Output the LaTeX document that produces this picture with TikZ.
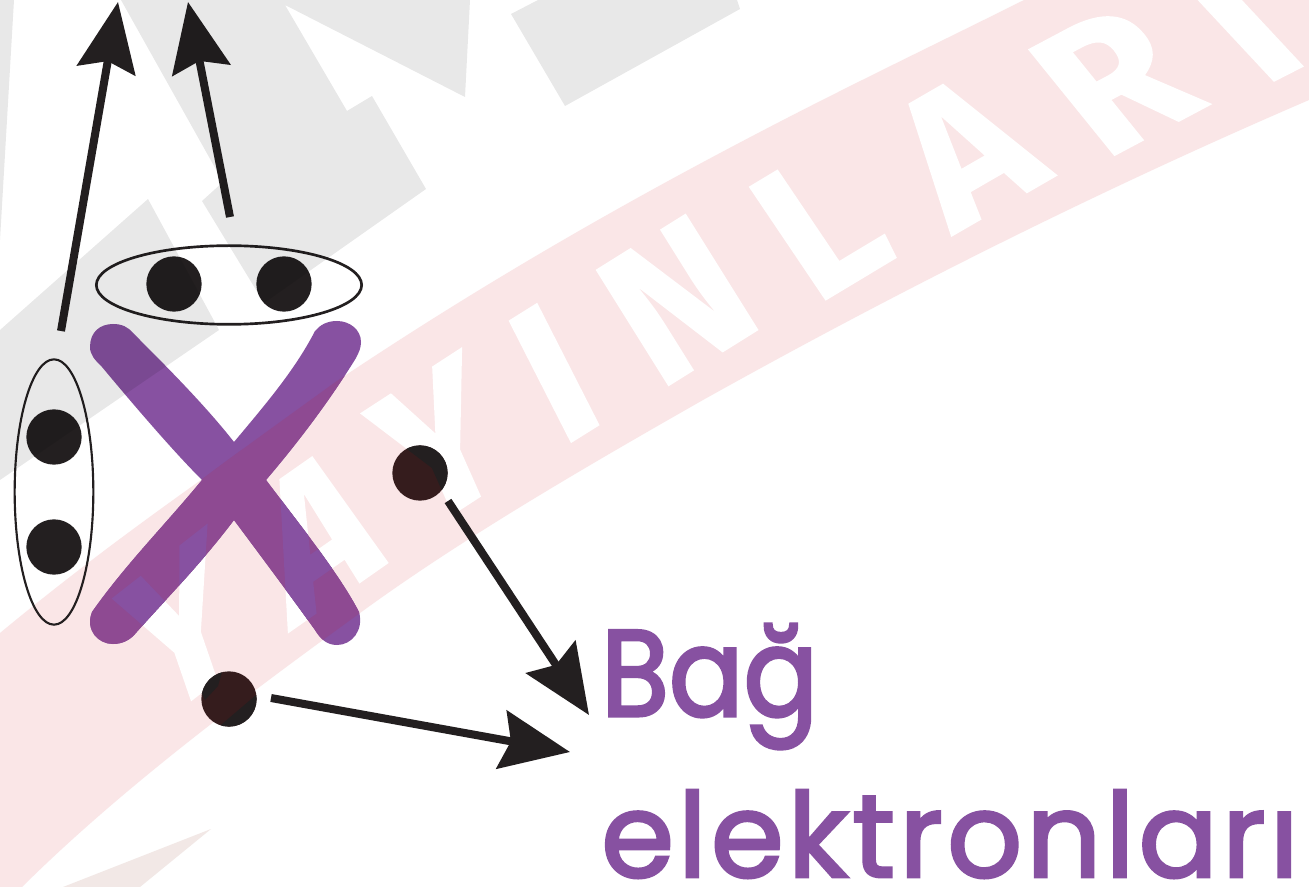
\documentclass[tikz,border=0pt]{standalone}
\usepackage{fontspec}
\usetikzlibrary{arrows.meta,shapes.geometric}
\setmainfont{Poppins}
\newfontfamily\wmfont{Fira Sans Bold}[FakeBold=0.8]
\newfontfamily\labfont{Poppins}[FakeBold=2.5,LetterSpace=3.5]
\newfontfamily\labbfont{Poppins}[FakeBold=2.5,FakeStretch=0.9]
\definecolor{inkblack}{RGB}{35,31,32}
\definecolor{inktint}{RGB}{53,28,29}
\definecolor{xpurple}{RGB}{135,81,161}
\definecolor{xtint}{RGB}{142,74,146}
\definecolor{wmpink}{RGB}{250,230,231}
\definecolor{wmsmall}{RGB}{242,232,230}
% one slanted watermark letter: x, y (px from top-left), baseline dir, stem dir, letter, colour
\newcommand{\wmletter}[6]{%
  \begin{scope}[shift={(#1,#2)}]
    \pgfmathsetmacro{\wma}{cos(#3)}\pgfmathsetmacro{\wmb}{sin(#3)}
    \pgfmathsetmacro{\wmc}{cos(#4)}\pgfmathsetmacro{\wmd}{sin(#4)}
    \pgftransformcm{\wma}{\wmb}{\wmc}{\wmd}{\pgfpointorigin}
    \node[transform shape,inner sep=0pt,outer sep=0pt,text=#6,anchor=center] {\fontsize{147pt}{147pt}\wmfont #5};
  \end{scope}}
\newcommand{\wmYa}[1]{\wmletter{182}{626}{38}{109}{Y}{#1}}
\newcommand{\wmAa}[1]{\wmletter{317}{533}{35}{108}{A}{#1}}
\newcommand{\wmYb}[1]{\wmletter{439}{443}{33}{114}{Y}{#1}}
\newcommand{\wmband}{(0,633) .. controls (70,575) and (135,527) .. (201,480) .. controls (245,447) and (290,415) .. (334,383) .. controls (480,285) and (620,205) .. (760,132) .. controls (850,85) and (940,42) .. (1024,0) -- (1309,0) -- (1309,100) .. controls (1100,190) and (900,290) .. (703,400) .. controls (580,470) and (460,540) .. (360,613) .. controls (240,700) and (120,790) .. (22,887) -- (0,887) -- cycle}
\newcommand{\xarmA}{(90,347) .. controls (90,332) and (100,324) .. (113,324) .. controls (122,324) and (128,327) .. (133,333)
  .. controls (165,365) and (205,405) .. (234,442) -- (266,480) .. controls (300,525) and (340,575) .. (359,612)
  .. controls (364,630) and (352,645) .. (337,645) .. controls (326,645) and (320,638) .. (315,630)
  .. controls (290,595) and (260,555) .. (234,520) -- (202,480) .. controls (172,450) and (132,403) .. (102,367)
  .. controls (95,360) and (90,355) .. (90,347) -- cycle}
\newcommand{\xarmB}{(361,342) .. controls (361,330) and (350,321) .. (337,321) .. controls (327,321) and (320,325) .. (315,331)
  .. controls (295,370) and (265,405) .. (234,442) -- (202,480) .. controls (165,525) and (125,565) .. (92,612)
  .. controls (85,630) and (98,644) .. (113,644) .. controls (122,644) and (130,640) .. (135,634)
  .. controls (165,600) and (200,565) .. (234,520) -- (266,480) .. controls (300,440) and (330,400) .. (356,358)
  .. controls (359,352) and (361,348) .. (361,342) -- cycle}
\tikzset{
  dotnode/.style={circle,fill=inkblack,draw=none,minimum size=41.5pt,inner sep=0pt},
  shaft/.style={draw=inkblack,line width=6pt,-{Stealth[length=52pt,width=44pt,inset=7pt]}},
  greyshape/.style={fill=black,fill opacity=0.09,draw=none},
  bigtext/.style={text=xpurple,anchor=base west,inner sep=0pt},
}
\begin{document}
\begin{tikzpicture}[x=0.75pt,y=-0.75pt]
\useasboundingbox (0,0) rectangle (1309,887);
\fill[white] (0,0) rectangle (1309,887);
\begin{scope}
\clip (0,0) rectangle (1309,887);
% watermark band and letters
\fill[wmpink] \wmband;
\fill[wmsmall] (63,887) -- (211,829) -- (140,887) -- cycle;
\wmYa{white}
\wmAa{white}
\wmYb{white}
\wmletter{554}{373}{32}{117}{I}{white}
\wmletter{677}{300}{32}{122}{N}{white}
\wmletter{820}{224}{31}{124}{L}{white}
\wmletter{965}{150}{30}{125}{A}{white}
\wmletter{1114}{80}{28}{129}{R}{white}
\wmletter{1242}{24}{27}{133}{I}{white}
% X, tinted where it lies on the band, plain where on a letter
\fill[xpurple] \xarmA;
\fill[xpurple] \xarmB;
\begin{scope}
  \clip \wmband;
  \fill[xtint] \xarmA;
  \fill[xtint] \xarmB;
\end{scope}
\begin{scope}
  \clip \xarmA;
  \wmYa{xpurple}
  \wmAa{xpurple}
\end{scope}
\begin{scope}
  \clip \xarmB;
  \wmYa{xpurple}
  \wmAa{xpurple}
\end{scope}
\node[dotnode] (d1) at (174,284) {};
\node[dotnode] (d2) at (284,284) {};
\node[dotnode] (d3) at (54,437) {};
\node[dotnode] (d4) at (54,547) {};
\node[dotnode,fill=inktint] (d5) at (420,473) {};
\node[dotnode,fill=inktint] (d6) at (229,699) {};
\begin{scope}
  \clip (420,473) circle [radius=27.6];
  \wmYb{inkblack}
\end{scope}
\begin{scope}
  \clip (229,699) circle [radius=27.6];
  \fill[inkblack] (195,680) -- (222,672) -- (218,686) -- (205,700) -- cycle;
  \fill[inkblack] (215,730) -- (262,690) -- (262,730) -- cycle;
\end{scope}
\node[ellipse,draw=inkblack,line width=2pt,minimum width=199pt,minimum height=59pt,inner sep=0pt] (e1) at (229,285) {};
\node[ellipse,draw=inkblack,line width=1.6pt,minimum width=59pt,minimum height=199pt,inner sep=0pt] (e2) at (54,492) {};
\coordinate (a1s) at (61,331);
\coordinate (a1e) at (118,2);
\coordinate (a2s) at (230,217);
\coordinate (a2e) at (188,2);
\coordinate (a3s) at (448,501);
\coordinate (a3e) at (589,715);
\coordinate (a4s) at (271,698);
\coordinate (a4e) at (570,752);
\draw[shaft] (a1s) -- (a1e);
\draw[shaft] (a2s) -- (a2e);
\draw[shaft] (a3s) -- (a3e);
\draw[shaft] (a4s) -- (a4e);
\node[bigtext] (t1) at (601,716) {\fontsize{92pt}{92pt}\labbfont Bağ};
\node[bigtext] (t2) at (601,877) {\fontsize{88pt}{88pt}\labfont elektronları};
% grey overlay
\fill[greyshape] (0,0) -- (14,0) -- (0,240) -- cycle;
\fill[greyshape] (121,0) -- (470,0) -- (465,97) -- (285,5) -- (347,111) -- (372,96) -- (426,189) -- (264,303) -- (202,201) -- (223,182) -- cycle;
\fill[greyshape] (148,199) -- (219,330) -- (0,480) -- (0,330) -- cycle;
\fill[greyshape] (511,14) -- (538,0) -- (737,0) -- (740,9) -- (565,106) -- cycle;
\end{scope}
\end{tikzpicture}
\end{document}
